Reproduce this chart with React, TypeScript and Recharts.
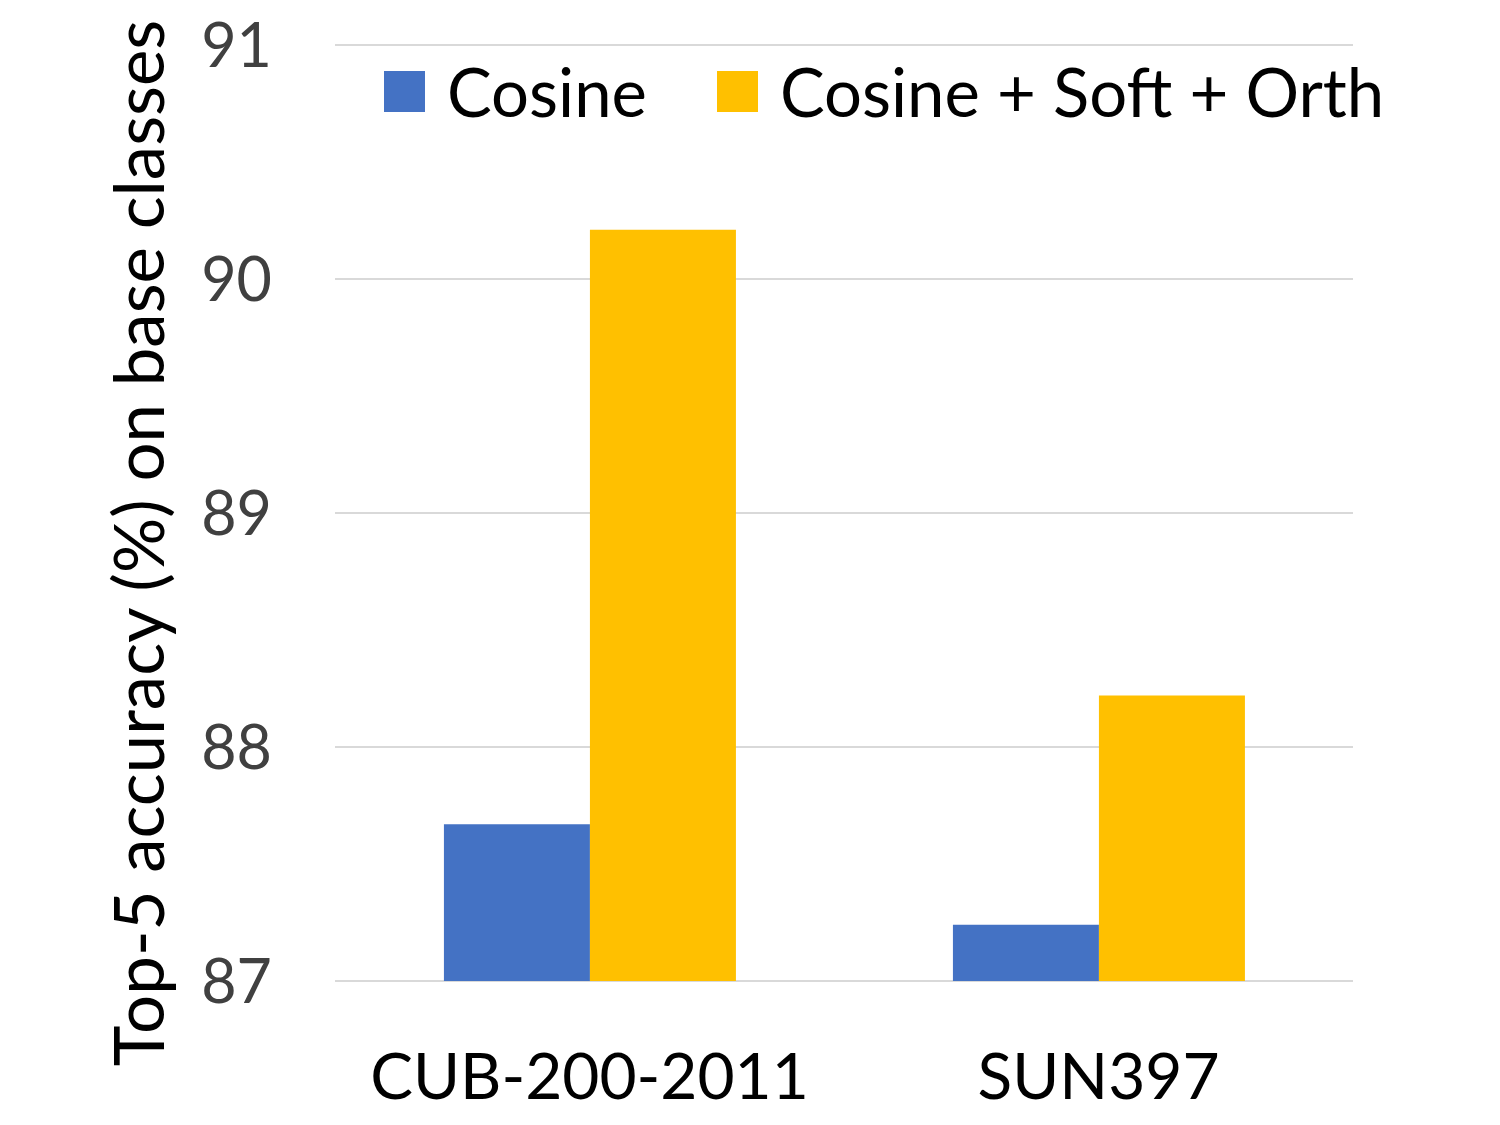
import { BarChart, Bar, XAxis, YAxis, CartesianGrid, Legend } from "recharts";

const datasets = ["CUB-200-2011", "SUN397"];
const cosine = [87.67, 87.24];
const cosineSoftOrth = [90.21, 88.22];
const yTicks = [87, 88, 89, 90, 91];

const data = datasets.map((name, i) => ({
  name,
  cosine: cosine[i],
  soft: cosineSoftOrth[i],
}));

const FONT = "Lato, 'Open Sans', sans-serif";

function LegendBox({ payload }: any) {
  return (
    <div style={{ display: "flex", fontFamily: FONT, fontSize: 67, color: "#000", lineHeight: "67px" }}>
      {(payload || []).map((p: any, i: number) => (
        <div key={i} style={{ display: "flex", alignItems: "center", marginRight: i === 0 ? 70 : 0 }}>
          <div style={{ width: 41, height: 41, background: p.color, marginRight: 22 }} />
          <span>{p.value}</span>
        </div>
      ))}
    </div>
  );
}

function YLabel({ viewBox }: any) {
  const cx = 137;
  const cy = viewBox.y + viewBox.height / 2 + 30;
  return (
    <text
      x={cx}
      y={cy}
      transform={`rotate(-90, ${cx}, ${cy})`}
      textAnchor="middle"
      dominantBaseline="central"
      fontFamily={FONT}
      fontSize={69}
      fill="#000"
    >
      Top-5 accuracy (%) on base classes
    </text>
  );
}

export default function App() {
  return (
    <div style={{ position: "absolute", left: 0, top: 0, width: 1500, height: 1125, background: "#fff" }}>
      <BarChart
        width={1500}
        height={1125}
        data={data}
        margin={{ top: 45, right: 147, left: 0, bottom: 0 }}
        barCategoryGap="21.4%"
        barGap={0}
      >
        <CartesianGrid vertical={false} stroke="#d9d9d9" strokeWidth={2} />
        <XAxis
          dataKey="name"
          height={144}
          axisLine={false}
          tickLine={false}
          tickMargin={67}
          tick={{ fontFamily: FONT, fontSize: 64, fill: "#000" }}
        />
        <YAxis
          width={335}
          domain={[87, 91]}
          ticks={yTicks}
          axisLine={false}
          tickLine={false}
          tickMargin={57}
          tick={{ fontFamily: FONT, fontSize: 61, fill: "#404040" }}
          label={<YLabel />}
        />
        <Legend
          verticalAlign="middle"
          layout="horizontal"
          content={<LegendBox />}
          wrapperStyle={{ top: 58, left: 384, width: "auto" }}
        />
        <Bar dataKey="cosine" name="Cosine" fill="#4472C4" isAnimationActive={false} />
        <Bar dataKey="soft" name="Cosine + Soft + Orth" fill="#FFC000" isAnimationActive={false} />
      </BarChart>
    </div>
  );
}
